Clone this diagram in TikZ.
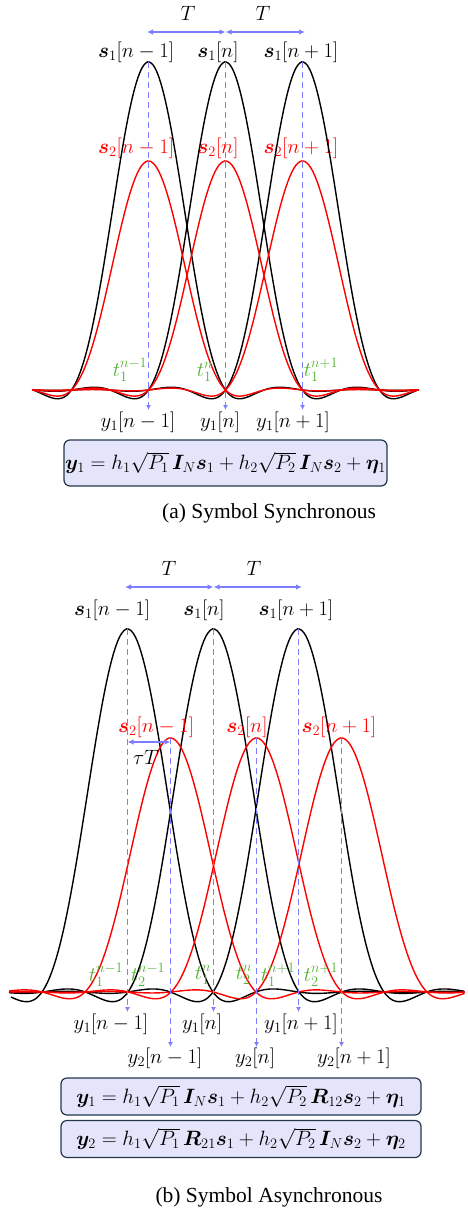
\documentclass[tikz,border=0pt]{standalone}
\usepackage{amsmath,bm}
\usepackage[no-math]{fontspec}
\newfontfamily\capfont{Liberation Serif}
\usetikzlibrary{arrows.meta}
\definecolor{dblue}{RGB}{125,125,255}
\definecolor{tgreen}{RGB}{85,175,50}
\definecolor{boxfill}{RGB}{228,228,250}
\definecolor{boxline}{RGB}{35,55,75}
\newcommand\rcpulse[7]{% #1 style, #2 center, #3 T, #4 amp, #5 base, #6 xmin, #7 xmax
  \pgfmathtruncatemacro\mone{(#2-#6)/(#3*0.025)}%
  \pgfmathtruncatemacro\mtwo{(#7-#2)/(#3*0.025)}%
  \pgfmathsetmacro\da{-(\mone*0.025+0.0125)}%
  \pgfmathsetmacro\db{\mtwo*0.025+0.0125}%
  \pgfmathtruncatemacro\ns{\mone+\mtwo+2}%
  \draw[#1] plot[domain=\da:\db, samples=\ns] ({#2+#3*\x},{#5-#4*rc(\x)});%
}
\begin{document}
\begin{tikzpicture}[x=1pt,y=-1pt,
  declare function={rc(\t)=sin(360*\t)/(2*pi*\t*(1-4*\t*\t));},
  blackpulse/.style={black,line width=1.4pt},
  redpulse/.style={red,line width=1.4pt},
  guide/.style={draw=dblue, line width=1.6pt, dash pattern=on 6pt off 4pt, -{Latex[length=5pt,width=5pt]}},
  span/.style={draw=dblue, line width=1.7pt, {Latex[length=6pt,width=5.5pt]}-{Latex[length=6pt,width=5.5pt]}},
  lblA/.style={inner sep=0pt, font=\fontsize{21}{23}\selectfont},
  lblB/.style={inner sep=0pt, font=\fontsize{22.5}{25}\selectfont},
  tlbl/.style={inner sep=0pt, text=tgreen, font=\fontsize{21}{23}\selectfont},
  eqbox/.style={draw=boxline, fill=boxfill, line width=1.2pt, rounded corners=6pt, inner sep=0pt},
  captxt/.style={inner sep=0pt, font=\capfont\fontsize{21.5}{24}\selectfont}]
\useasboundingbox (0,0) rectangle (468,1212);

% ================= (a) =================
\node[lblA] (Ta1) at (188,13) {$T$};
\node[lblA] (Ta2) at (263,13) {$T$};
\coordinate (aA0) at (147,32);
\coordinate (aA1) at (225.5,32);
\coordinate (aA2) at (305,32);
\draw[span] (aA0) -- (aA1);
\draw[span] (aA1) -- (aA2);

\node[lblA] (as1a) at (136,52) {$\bm{s}_1[n-1]$};
\node[lblA] (as1b) at (218,52) {$\bm{s}_1[n]$};
\node[lblA] (as1c) at (301,52) {$\bm{s}_1[n+1]$};
\node[lblA,text=red] (as2a) at (136,148) {$\bm{s}_2[n-1]$};
\node[lblA,text=red] (as2b) at (218,148) {$\bm{s}_2[n]$};
\node[lblA,text=red] (as2c) at (301,148) {$\bm{s}_2[n+1]$};

\foreach \c in {148.5,225.5,302.5} {\rcpulse{blackpulse}{\c}{77}{328}{390}{33}{418}}
\foreach \c in {148.5,225.5,302.5} {\rcpulse{redpulse}{\c}{77}{229}{390}{33}{418}}

\coordinate (apk1) at (148.5,62);
\coordinate (apk2) at (225.5,62);
\coordinate (apk3) at (302.5,62);
\coordinate (atip1) at (148.5,410);
\coordinate (atip2) at (225.5,410);
\coordinate (atip3) at (302.5,410);
\draw[guide] (apk1) -- (atip1);
\draw[guide] (apk2) -- (atip2);
\draw[guide] (apk3) -- (atip3);

\node[tlbl] (at1) at (130,370) {$t_1^{n-1}$};
\node[tlbl] (at2) at (205,372) {$t_1^{n}$};
\node[tlbl] (at3) at (321,370) {$t_1^{n+1}$};

\node[lblA] (ay1) at (138,422) {$y_1[n-1]$};
\node[lblA] (ay2) at (220,422) {$y_1[n]$};
\node[lblA] (ay3) at (293,422) {$y_1[n+1]$};

\node[eqbox, minimum width=323pt, minimum height=46pt, font=\fontsize{20.5}{23}\selectfont] (aeq) at (225.5,463)
  {$\bm{y}_1 = h_1\sqrt{P_1}\,\bm{I}_N\bm{s}_1 + h_2\sqrt{P_2}\,\bm{I}_N\bm{s}_2 + \bm{\eta}_1$};
\node[captxt] (acap) at (269,513) {(a) Symbol Synchronous};

% ================= (b) =================
\node[lblB] (Tb1) at (169,568) {$T$};
\node[lblB] (Tb2) at (254,568) {$T$};
\coordinate (bA0) at (125,587);
\coordinate (bA1) at (213.5,587);
\coordinate (bA2) at (302,587);
\draw[span] (bA0) -- (bA1);
\draw[span] (bA1) -- (bA2);

\node[lblB] (bs1a) at (112,610) {$\bm{s}_1[n-1]$};
\node[lblB] (bs1b) at (204,610) {$\bm{s}_1[n]$};
\node[lblB] (bs1c) at (296,610) {$\bm{s}_1[n+1]$};

\foreach \c in {127.5,213.5,298.5} {\rcpulse{blackpulse}{\c}{85.5}{363}{992}{10}{465}}
\foreach \c in {170.5,256.5,341.5} {\rcpulse{redpulse}{\c}{85.5}{254}{992}{10}{465}}

\node[lblB,text=red] (bs2a) at (156,727) {$\bm{s}_2[n-1]$};
\node[lblB,text=red] (bs2b) at (247,727) {$\bm{s}_2[n]$};
\node[lblB,text=red] (bs2c) at (339,727) {$\bm{s}_2[n+1]$};

\coordinate (bpk1) at (127.5,629);
\coordinate (bpk2) at (213.5,629);
\coordinate (bpk3) at (298.5,629);
\coordinate (btip1) at (127.5,1012);
\coordinate (btip2) at (213.5,1012);
\coordinate (btip3) at (298.5,1012);
\coordinate (rpk1) at (170.5,738);
\coordinate (rpk2) at (256.5,738);
\coordinate (rpk3) at (341.5,738);
\coordinate (rtip1) at (170.5,1047);
\coordinate (rtip2) at (256.5,1047);
\coordinate (rtip3) at (341.5,1047);
\draw[guide] (bpk1) -- (btip1);
\draw[guide] (bpk2) -- (btip2);
\draw[guide] (bpk3) -- (btip3);
\draw[guide] (rpk1) -- (rtip1);
\draw[guide] (rpk2) -- (rtip2);
\draw[guide] (rpk3) -- (rtip3);

\coordinate (tau0) at (127.5,742);
\coordinate (tau1) at (170.5,742);
\draw[span,line width=1.5pt] (tau0) -- (tau1);
\node[lblB] (taulbl) at (146,757) {$\tau T$};

\node[tlbl] (bt1) at (106,975) {$t_1^{n-1}$};
\node[tlbl] (bt2) at (148,975) {$t_2^{n-1}$};
\node[tlbl] (bt3) at (203,975) {$t_1^{n}$};
\node[tlbl] (bt4) at (244,975) {$t_2^{n}$};
\node[tlbl] (bt5) at (278,975) {$t_1^{n+1}$};
\node[tlbl] (bt6) at (321,975) {$t_2^{n+1}$};

\node[lblB] (by1a) at (111,1024) {$y_1[n-1]$};
\node[lblB] (by1b) at (202,1024) {$y_1[n]$};
\node[lblB] (by1c) at (301,1024) {$y_1[n+1]$};
\node[lblB] (by2a) at (165,1058) {$y_2[n-1]$};
\node[lblB] (by2b) at (255,1058) {$y_2[n]$};
\node[lblB] (by2c) at (354,1058) {$y_2[n+1]$};

\node[eqbox, minimum width=360pt, minimum height=37pt, font=\fontsize{21}{24}\selectfont] (beq1) at (241,1096.5)
  {$\bm{y}_1 = h_1\sqrt{P_1}\,\bm{I}_N\bm{s}_1 + h_2\sqrt{P_2}\,\bm{R}_{12}\bm{s}_2 + \bm{\eta}_1$};
\node[eqbox, minimum width=360pt, minimum height=37pt, font=\fontsize{21}{24}\selectfont] (beq2) at (241,1139)
  {$\bm{y}_2 = h_1\sqrt{P_1}\,\bm{R}_{21}\bm{s}_1 + h_2\sqrt{P_2}\,\bm{I}_N\bm{s}_2 + \bm{\eta}_2$};
\node[captxt] (bcap) at (269,1197) {(b) Symbol Asynchronous};
\end{tikzpicture}
\end{document}
